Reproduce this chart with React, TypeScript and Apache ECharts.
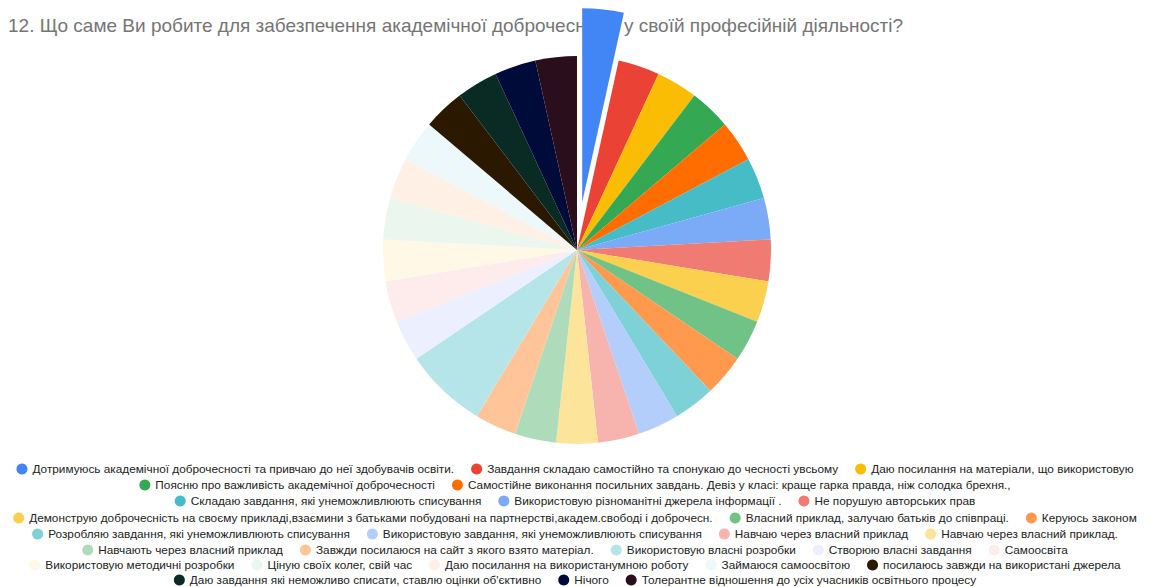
import React, { useEffect, useRef } from "react";
import * as echarts from "echarts";

const titleText =
  "12. Що саме Ви робите для забезпечення академічної доброчесності у своїй професійній діяльності?";

const categories = [
  "Дотримуюсь академічної доброчесності та привчаю до неї здобувачів освіти.",
  "Завдання складаю самостійно та спонукаю до чесності увсьому",
  "Даю посилання на матеріали, що використовую",
  "Поясню про важливість академічної доброчесності",
  "Самостійне виконання посильних завдань. Девіз у класі: краще гарка правда, ніж солодка брехня.,",
  "Складаю завдання, які унеможливлюють списування",
  "Використовую різноманітні джерела інформації .",
  "Не порушую авторських прав",
  "Демонструю доброчесність на своєму прикладі,взаємини з батьками побудовані на партнерстві,академ.свободі і доброчесн.",
  "Власний приклад, залучаю батьків до співпраці.",
  "Керуюсь законом",
  "Розробляю завдання, які унеможливлюють списування",
  "Використовую завдання, які унеможливлюють списування",
  "Навчаю через власний приклад",
  "Навчаю через власний приклад.",
  "Навчають через власний приклад",
  "Завжди посилаюся на сайт з якого взято матеріал.",
  "Використовую власні розробки",
  "Створюю власні завдання",
  "Самоосвіта",
  "Використовую методичні розробки",
  "Ціную своїх колег, свій час",
  "Даю посилання на використанумною роботу",
  "Займаюся самоосвітою",
  "посилаюсь завжди на використані джерела",
  "Даю завдання які неможливо списати, ставлю оцінки об'єктивно",
  "Нічого",
  "Толерантне відношення до усіх учасників освітнього процесу",
];

const values = [1, 1, 1, 1, 1, 1, 1, 1, 1, 1, 1, 1, 1, 1, 1, 1, 1, 2, 1, 1, 1, 1, 1, 1, 1, 1, 1, 1];

const colors = [
  "#4285f4", "#ea4335", "#fbbc04", "#34a853", "#ff6d01", "#46bdc6", "#7baaf7",
  "#f07b72", "#fcd04f", "#71c287", "#ff994d", "#7ed1d7", "#b3cefb", "#f7b4ae",
  "#fde49b", "#aedcba", "#ffc599", "#b5e5e8", "#eceffe", "#fdeceb", "#fff8e6",
  "#ebf6ee", "#fff0e6", "#ecf8f9", "#2b1800", "#0a2a24", "#000b3a", "#2a0e1c",
];

// legend rows (indices into categories)
const legendRows = [
  [0, 1, 2],
  [3, 4],
  [5, 6, 7],
  [8, 9, 10],
  [11, 12, 13, 14],
  [15, 16, 17, 18, 19],
  [20, 21, 22, 23, 24],
  [25, 26, 27],
];
const legendRowCenters = [469, 485, 501, 518, 534, 550, 565, 580];

export default function App() {
  const ref = useRef<HTMLDivElement>(null);
  useEffect(() => {
    if (!ref.current) return;
    const chart = echarts.init(ref.current, undefined, { renderer: "svg" });
    const option = {
      animation: false,
      backgroundColor: "#ffffff",
      title: {
        text: titleText,
        left: 0,
        top: 16,
        z: 0,
        textStyle: {
          fontFamily: "Liberation Sans",
          fontSize: 19,
          fontWeight: "normal",
          color: "#757575",
        },
        padding: [0, 0, 0, 8],
      },
      legend: legendRows.map((row, i) => ({
        data: row.map((k) => categories[k]),
        left: "center",
        top: legendRowCenters[i] - 6,
        orient: "horizontal",
        padding: 0,
        itemGap: 17,
        itemWidth: 11,
        itemHeight: 11,
        icon: "circle",
        textStyle: {
          fontFamily: "Liberation Sans",
          fontSize: 11.8,
          color: "#222222",
        },
      })),
      series: [
        {
          type: "pie",
          z: 10,
          center: [577, 250],
          radius: 194,
          startAngle: 90,
          clockwise: true,
          selectedMode: "single",
          selectedOffset: 48,
          label: { show: false },
          labelLine: { show: false },
          emphasis: { disabled: true },
          data: categories.map((name, i) => ({
            name,
            value: values[i],
            selected: i === 0,
            itemStyle: { color: colors[i] },
          })),
        },
      ],
    };
    chart.setOption(option);
    return () => chart.dispose();
  }, []);
  return (
    <div
      ref={ref}
      style={{ position: "absolute", left: 0, top: 0, width: 1150, height: 587 }}
    />
  );
}
